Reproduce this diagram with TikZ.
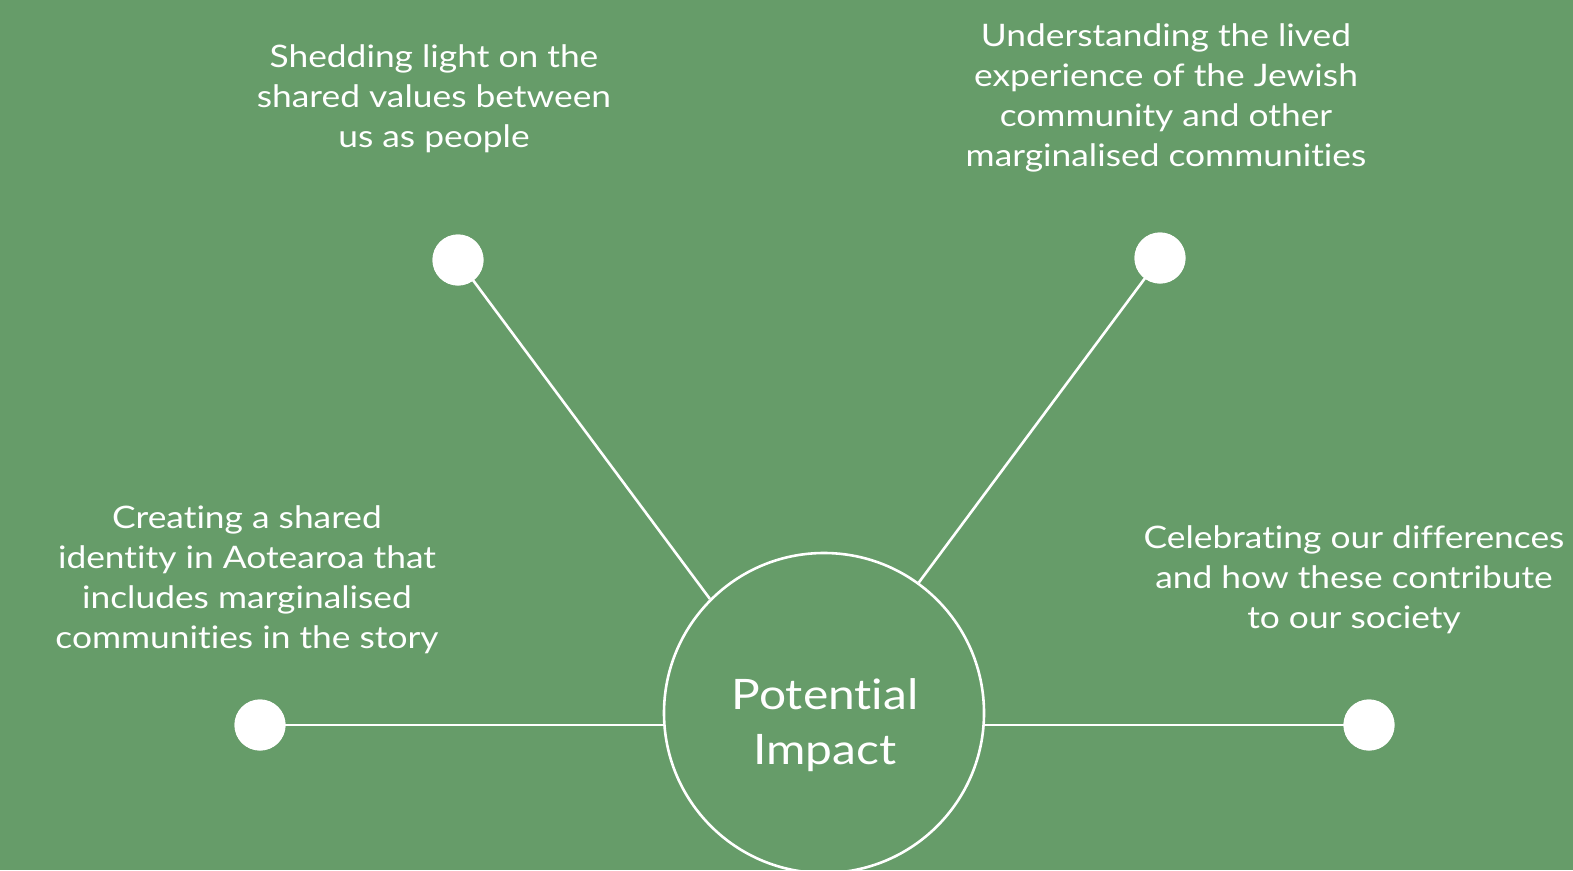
\documentclass[tikz,border=0pt]{standalone}
\usepackage{fontspec}
\setmainfont{Lato}[FakeStretch=1.14,RawFeature={-liga;-dlig}]
\definecolor{bg}{RGB}{102,156,105}
\begin{document}
\begin{tikzpicture}[x=1pt,y=-1pt,
  dot/.style={circle,fill=white,inner sep=0pt,minimum size=51pt},
  conn/.style={draw=white,line width=2.6pt},
  label/.style={text=white,align=center,inner sep=0pt,font=\fontsize{31}{40}\selectfont},
  hub/.style={circle,draw=white,line width=2.6pt,minimum size=320pt,inner sep=0pt},
  hubtext/.style={text=white,align=center,inner sep=0pt,font=\fontsize{42}{55}\selectfont}]
\fill[bg] (0,0) rectangle (1573,870);
\useasboundingbox (0,0) rectangle (1573,870);
\node[hub] (c) at (824,713) {};
\node[hubtext] (ct) at (825,725) {Potential\\Impact};
\node[dot] (d1) at (458,260) {};
\node[dot] (d2) at (1160,258) {};
\node[dot] (d3) at (260,725) {};
\node[dot] (d4) at (1369,725) {};
\draw[conn] (d1.center) -- (c.135);
\draw[conn] (d2.center) -- (c.54);
\draw[conn] (d3.center) -- (d3.center -| c.west);
\draw[conn] (d4.center) -- (d4.center -| c.east);
\node[dot] at (d1) {};
\node[dot] at (d2) {};
\node[dot] at (d3) {};
\node[dot] at (d4) {};
\node[label] (t1) at (434,99) {Shedding light on the\\shared values between\\us as people};
\node[label] (t2) at (1166,98) {Understanding the lived\\experience of the Jewish\\community and other\\marginalised communities};
\node[label] (t3) at (247,580) {Creating a shared\\identity in Aotearoa that\\includes marginalised\\communities in the story};
\node[label] (t4) at (1354,580) {Celebrating our differences\\and how these contribute\\to our society};
\end{tikzpicture}
\end{document}
